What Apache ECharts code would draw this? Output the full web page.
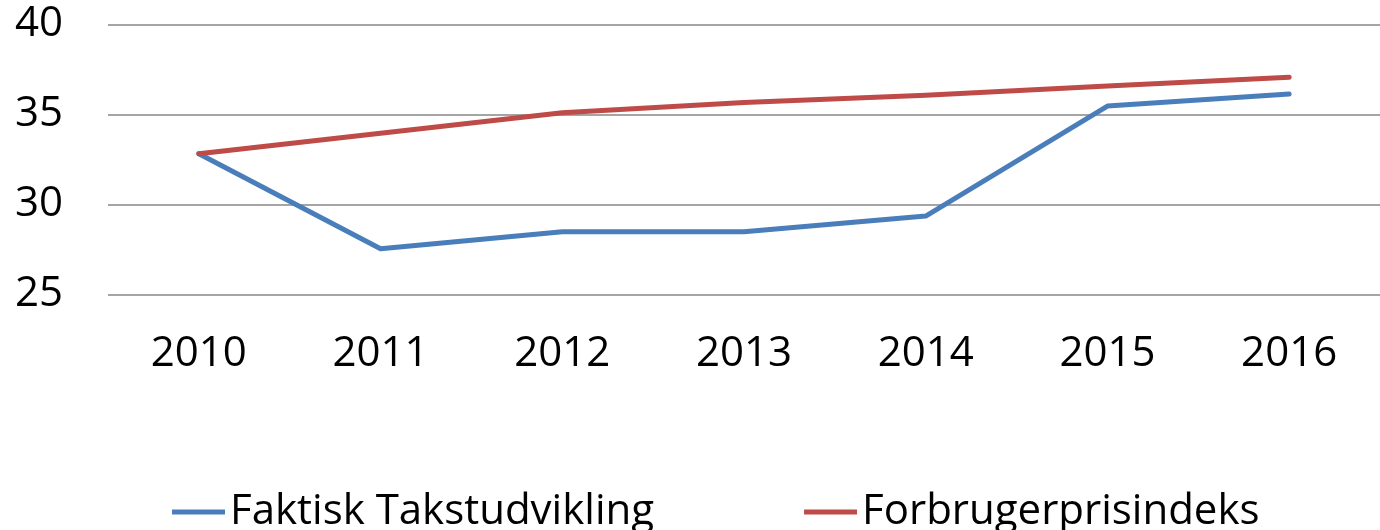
<!DOCTYPE html>
<html>
<head>
<meta charset="utf-8">
<script src="https://cdn.jsdelivr.net/npm/echarts@6/dist/echarts.min.js"></script>
<style>
  html, body { margin: 0; padding: 0; background: #fff; }
  #chart { width: 1380px; height: 530px; }
</style>
</head>
<body>
<div id="chart"></div>
<script>
  // years on the x axis
  var years = ['2010', '2011', '2012', '2013', '2014', '2015', '2016']
  var faktisk = [32.82, 27.54, 28.49, 28.49, 29.36, 35.47, 36.14]
  var forbruger = [32.82, 33.96, 35.1, 35.66, 36.07, 36.58, 37.07]
  var seriesNames = ['Faktisk Takstudvikling', 'Forbrugerprisindeks']

  var font = '"Open Sans", "Noto Sans", sans-serif'
  var myChart = echarts.init(document.getElementById('chart'))

  myChart.setOption({
    animation: false,
    grid: { left: 108, top: 24.5, width: 1288, height: 270 },
    legend: {
      data: seriesNames,
      left: 167,
      top: 486,
      icon: 'rect',
      itemWidth: 53,
      itemHeight: 5,
      itemGap: 150,
      textStyle: { fontFamily: font, fontSize: 42, color: '#000' }
    },
    xAxis: {
      type: 'category',
      data: years,
      boundaryGap: true,
      axisLine: { show: false },
      axisTick: { show: false },
      axisLabel: { fontFamily: font, fontSize: 42, color: '#000', margin: 39 }
    },
    yAxis: {
      type: 'value',
      min: 25,
      max: 40,
      interval: 5,
      axisLine: { show: false },
      axisTick: { show: false },
      axisLabel: { fontFamily: font, fontSize: 42, color: '#000', margin: 45 },
      splitLine: { lineStyle: { color: '#878787', width: 1.5 } }
    },
    series: [
      {
        name: seriesNames[0],
        type: 'line',
        data: faktisk,
        symbol: 'none',
        color: '#4a7ebb',
        lineStyle: { width: 5, cap: 'round', join: 'round' }
      },
      {
        name: seriesNames[1],
        type: 'line',
        data: forbruger,
        symbol: 'none',
        color: '#be4b48',
        lineStyle: { width: 5, cap: 'round', join: 'round' }
      }
    ]
  })
</script>
</body>
</html>
